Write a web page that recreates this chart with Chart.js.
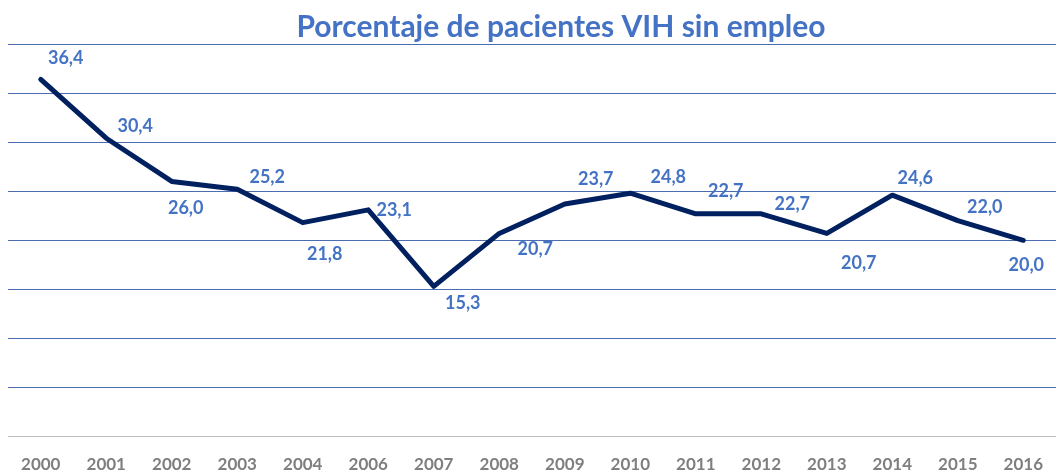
<!DOCTYPE html>
<html>
<head>
<meta charset="utf-8">
<script src="https://cdn.jsdelivr.net/npm/chart.js@4"></script>
<style>
    html, body { margin: 0; padding: 0; background: #fff; }
    #wrap { width: 1061px; height: 474px; }
</style>
</head>
<body>
<div id="wrap"><canvas id="unemployedChart" width="1061" height="474"></canvas></div>
<script>
const years = ['2000', '2001', '2002', '2003', '2004', '2006', '2007', '2008', '2009',
    '2010', '2011', '2012', '2013', '2014', '2015', '2016'];
const unemployedPct = [36.4, 30.4, 26.0, 25.2, 21.8, 23.1, 15.3, 20.7, 23.7,
    24.8, 22.7, 22.7, 20.7, 24.6, 22.0, 20.0];
const chartTitle = 'Porcentaje de pacientes VIH sin empleo';

// where each value label sits relative to its point (dx, dy in px)
const labelOffsets = [
    [25, -21], [29, -12], [14, 27], [30, -12], [22, 32], [26, 0], [29, 17], [36, 16],
    [31, -25], [38, -16], [30, -23], [31, -10], [32, 30], [23, -17], [27, -13], [3, 25]
];

const blue = '#4472c4';

const titleAndLabels = {
    id: 'titleAndLabels',
    afterDatasetsDraw(chart) {
        const ctx = chart.ctx;
        const meta = chart.getDatasetMeta(0);
        ctx.save();
        ctx.fillStyle = blue;
        ctx.textAlign = 'center';
        ctx.textBaseline = 'middle';
        ctx.font = 'bold 30px Lato';
        ctx.fillText(chartTitle, 561, 27);
        ctx.font = 'bold 18px Lato';
        meta.data.forEach((pt, i) => {
            const txt = unemployedPct[i].toFixed(1).replace('.', ',');
            const off = labelOffsets[i] || [0, -15];
            ctx.fillText(txt, pt.x + off[0], pt.y + off[1]);
        });
        ctx.restore();
    }
};

new Chart(document.getElementById('unemployedChart'), {
    type: 'line',
    data: {
        labels: years,
        datasets: [{
            data: unemployedPct,
            borderColor: '#002060',
            borderWidth: 5,
            borderCapStyle: 'round',
            borderJoinStyle: 'round',
            pointRadius: 0,
            tension: 0,
            fill: false
        }]
    },
    options: {
        responsive: false,
        animation: false,
        layout: { padding: { left: 8, right: 0, top: 44, bottom: -19 } },
        plugins: {
            legend: { display: false },
            tooltip: { enabled: false },
            title: { display: false }
        },
        scales: {
            x: {
                offset: true,
                grid: { display: false, drawTicks: false },
                border: { display: false },
                ticks: {
                    color: '#7f7f7f',
                    font: { family: 'Lato', size: 17, weight: 'bold' },
                    padding: 18,
                    maxRotation: 0,
                    autoSkip: false
                }
            },
            y: {
                min: 0,
                max: 40,
                ticks: { display: false, stepSize: 5 },
                border: { display: false },
                grid: {
                    drawTicks: false,
                    color: c => c.tick && c.tick.value === 0 ? '#bfbfbf' : '#4a6cb0',
                    lineWidth: 1
                }
            }
        }
    },
    plugins: [titleAndLabels]
});
</script>
</body>
</html>
